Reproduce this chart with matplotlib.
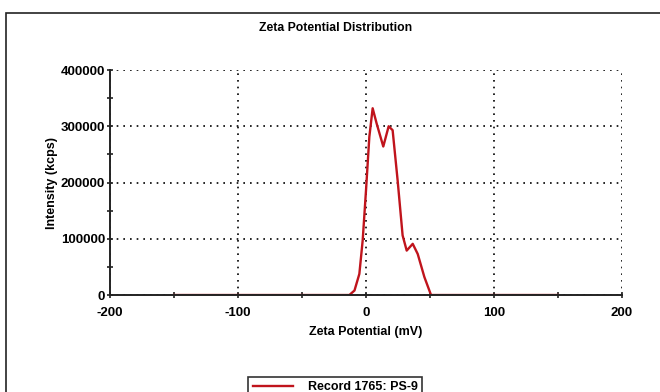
import matplotlib
matplotlib.use("Agg")
import matplotlib.pyplot as plt
from matplotlib.patches import Rectangle
from matplotlib.ticker import MultipleLocator

plt.rcParams['font.family'] = ['Liberation Sans', 'DejaVu Sans']

zeta_mv = [-150, -13, -9, -5.2, -2.6, 0, 2.6, 5.2, 8.3, 13.5, 17.7, 20.8, 24.7,
           28.6, 31.8, 36.5, 40.4, 45.6, 50.8, 150]
intensity = [0, 0, 8000, 37500, 97000, 186000, 281000, 332000, 305000, 264000,
             300000, 293000, 204000, 106000, 79000, 91000, 73000, 32000, 0, 0]
x_ticks = [-200, -100, 0, 100, 200]
y_ticks = [0, 100000, 200000, 300000, 400000]
title = "Zeta Potential Distribution"
xlabel = "Zeta Potential (mV)"
ylabel = "Intensity (kcps)"
series_name = "Record 1765: PS-9"

fig = plt.figure(figsize=(6.6, 3.92), dpi=100)
fig.patch.set_facecolor("white")
fig.patches.append(Rectangle((0.009, -0.1), 1.2, 1.067, transform=fig.transFigure,
                             fill=False, edgecolor="#222222", linewidth=1.2))

ax = fig.add_axes([0.1667, 0.2474, 0.7757, 0.574])
line, = ax.plot(zeta_mv, intensity, color="#c0141c", linewidth=1.7, label=series_name)

ax.set_xlim(-200, 200)
ax.set_ylim(0, 400000)
ax.set_xticks(x_ticks)
ax.set_yticks(y_ticks)
ax.xaxis.set_minor_locator(MultipleLocator(50))
ax.yaxis.set_minor_locator(MultipleLocator(50000))
ax.set_xticklabels([str(v) for v in x_ticks], fontsize=9.5, fontweight="bold")
ax.set_yticklabels([str(v) for v in y_ticks], fontsize=9.5, fontweight="bold")
ax.tick_params(which="both", direction="inout", length=5, width=1.2, color="#222222")
ax.tick_params(axis="x", which="both", pad=6)
ax.tick_params(axis="y", which="both", pad=1)
ax.tick_params(which="minor", length=4)

ax.grid(True, which="major", linestyle=(0, (1, 3)), color="black", linewidth=1.2)
for s in ["top", "right"]:
    ax.spines[s].set_visible(False)
for s in ["left", "bottom"]:
    ax.spines[s].set_linewidth(1.4)
    ax.spines[s].set_color("#222222")

ax.set_xlabel(xlabel, fontsize=9, fontweight="bold", labelpad=5)
ax.set_ylabel(ylabel, fontsize=9, fontweight="bold", labelpad=2)
fig.text(0.508, 0.928, title, ha="center", va="center", fontsize=8.8, fontweight="bold")

leg = fig.legend(handles=[line], loc="upper center", bbox_to_anchor=(0.508, 0.038),
                 fontsize=9, frameon=True, fancybox=False, edgecolor="black",
                 handlelength=3.2, borderpad=0.35, handletextpad=1.2, borderaxespad=0)
leg.get_frame().set_linewidth(1.2)
for t in leg.get_texts():
    t.set_fontweight("bold")

fig.savefig("out.png", dpi=100)
